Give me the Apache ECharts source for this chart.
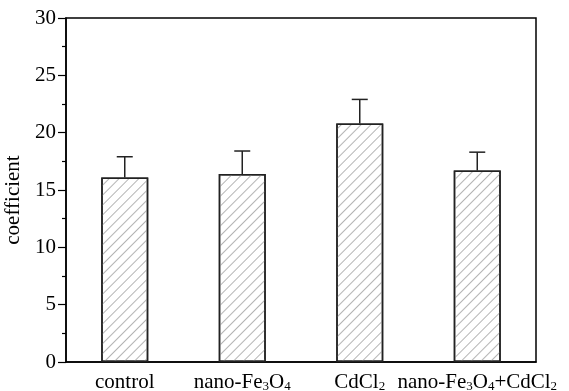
<!DOCTYPE html>
<html>
<head>
<meta charset="utf-8">
<script src="https://cdn.jsdelivr.net/npm/echarts@6/dist/echarts.min.js"></script>
<style>
  html, body { margin: 0; padding: 0; background: #fff; }
  #main { width: 569px; height: 391px; }
</style>
</head>
<body>
<div id="main"></div>
<script>
var categories = ['control', 'nano-Fe3O4', 'CdCl2', 'nano-Fe3O4+CdCl2'];
var categoryLabels = [
  'control',
  'nano-Fe{s|3}O{s|4}',
  'CdCl{s|2}',
  'nano-Fe{s|3}O{s|4}+CdCl{s|2}'
];
var means = [16.1, 16.4, 20.8, 16.7];
var errors = [1.8, 2.0, 2.1, 1.6];

var font = 'Liberation Serif';
var myChart = echarts.init(document.getElementById('main'));

var option = {
  animation: false,
  grid: {
    left: 66, right: 33, top: 18, bottom: 29,
    outerBoundsMode: 'none',
    containLabel: false,
    show: true, borderColor: '#000', borderWidth: 1.5, backgroundColor: 'transparent'
  },
  xAxis: {
    type: 'category',
    data: categories,
    axisLine: { lineStyle: { color: '#000', width: 1.5 } },
    axisTick: { show: false },
    axisLabel: {
      margin: 10,
      color: '#000',
      fontFamily: font,
      fontSize: 21,
      lineHeight: 21,
      interval: 0,
      formatter: function (v, i) { return categoryLabels[i]; },
      rich: {
        s: { fontFamily: font, fontSize: 13, lineHeight: 13, verticalAlign: 'bottom', color: '#000' }
      }
    }
  },
  yAxis: {
    type: 'value',
    min: 0, max: 30, interval: 5,
    name: 'coefficient',
    nameLocation: 'middle',
    nameGap: 33,
    nameTextStyle: { color: '#000', fontFamily: font, fontSize: 21, padding: [0, 20, 0, 0] },
    axisLine: { show: true, lineStyle: { color: '#000', width: 1.5 } },
    axisTick: { show: true, inside: false, length: 8, lineStyle: { color: '#000', width: 1.2 } },
    minorTick: { show: true, splitNumber: 2, length: 4, lineStyle: { color: '#000', width: 1.2 } },
    splitLine: { show: false },
    axisLabel: { color: '#000', fontFamily: font, fontSize: 21, margin: 10 }
  },
  series: [
    {
      type: 'bar',
      data: means,
      barWidth: '40%',
      itemStyle: {
        color: '#fff',
        borderColor: '#222',
        borderWidth: 1.5,
        decal: {
          symbol: 'rect',
          color: '#b4b4b4',
          dashArrayX: [1, 0],
          dashArrayY: [1, 6],
          rotation: -Math.PI / 4
        }
      }
    },
    {
      type: 'custom',
      data: means.map(function (m, i) { return [i, m, m + errors[i]]; }),
      renderItem: function (params, api) {
        var base = api.coord([api.value(0), api.value(1)]);
        var top = api.coord([api.value(0), api.value(2)]);
        var half = 8;
        var style = { stroke: '#222', lineWidth: 1.5 };
        return {
          type: 'group',
          children: [
            { type: 'line', shape: { x1: base[0], y1: base[1], x2: top[0], y2: top[1] }, style: style },
            { type: 'line', shape: { x1: top[0] - half, y1: top[1], x2: top[0] + half, y2: top[1] }, style: style }
          ]
        };
      },
      z: 3
    }
  ]
};
myChart.setOption(option);
</script>
</body>
</html>
